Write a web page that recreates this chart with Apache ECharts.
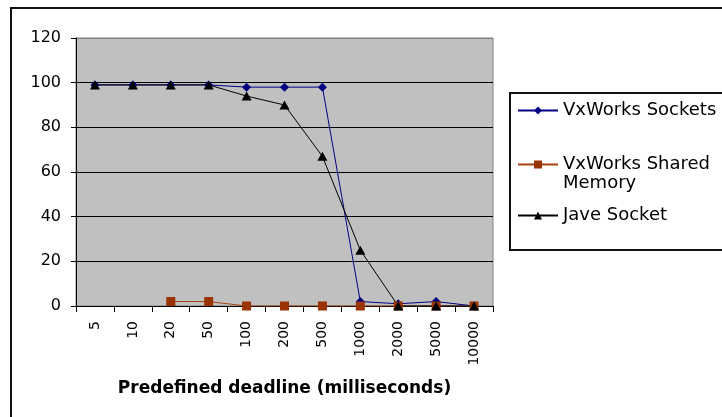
<!DOCTYPE html>
<html>
<head>
<meta charset="utf-8">
<script src="https://cdn.jsdelivr.net/npm/echarts@6/dist/echarts.min.js"></script>
<style>
  html, body { margin: 0; padding: 0; background: #fff; }
  #chart { width: 722px; height: 417px; }
</style>
</head>
<body>
<div id="chart"></div>
<script>
// deadline categories (ms)
var categories = ['5', '10', '20', '50', '100', '200', '500', '1000', '2000', '5000', '10000'];
// y axis
var yMin = 0, yMax = 120, yStep = 20;
// series values (percent)
var vxSockets = [99, 99, 99, 99, 98, 98, 98, 2, 1, 2, 0];
var vxSharedMem = [null, null, 2, 2, 0, 0, 0, 0, 0, 0, 0];
var javeSocket = [99, 99, 99, 99, 94, 90, 67, 25, 0, 0, 0];

var FONT = 'DejaVu Sans';

var chart = echarts.init(document.getElementById('chart'));

// one legend per item, Excel spreads them out unevenly
function legendItem(name, top) {
  return {
    data: [name],
    left: 517,
    top: top,
    orient: 'vertical',
    padding: 0,
    itemWidth: 40,
    itemHeight: 10,
    itemGap: 5,
    selectedMode: false,
    textStyle: { fontFamily: FONT, fontSize: 18, color: '#000', lineHeight: 19 },
    formatter: function (n) {
      // empty first line keeps the icon on the first text line
      return n === 'VxWorks Shared Memory' ? ' \nVxWorks Shared\nMemory' : n;
    }
  };
}

chart.setOption({
  animation: false,
  backgroundColor: '#fff',
  graphic: [
    { // outer chart frame
      type: 'rect',
      shape: { x: 11, y: 8, width: 800, height: 500 },
      style: { fill: 'none', stroke: '#111', lineWidth: 2 },
      silent: true
    },
    { // legend frame
      type: 'rect',
      shape: { x: 510, y: 93, width: 300, height: 157 },
      style: { fill: 'none', stroke: '#111', lineWidth: 2 },
      silent: true
    }
  ],
  legend: [
    legendItem('VxWorks Sockets', 101),
    legendItem('VxWorks Shared Memory', 136),
    legendItem('Jave Socket', 206)
  ],
  grid: {
    left: 76,
    top: 38,
    width: 417,
    height: 268,
    show: true,
    backgroundColor: '#c0c0c0',
    borderColor: '#808080',
    borderWidth: 1
  },
  xAxis: {
    type: 'category',
    data: categories,
    boundaryGap: true,
    name: 'Predefined deadline (milliseconds)',
    nameLocation: 'middle',
    nameGap: 74,
    nameTextStyle: { fontFamily: FONT, fontSize: 17, fontWeight: 'bold', color: '#000' },
    axisLine: { lineStyle: { color: '#000', width: 1 } },
    axisTick: { show: true, alignWithLabel: false, length: 6, lineStyle: { color: '#000' } },
    axisLabel: { rotate: 90, margin: 15, fontFamily: FONT, fontSize: 14, color: '#000', interval: 0 },
    splitLine: { show: false }
  },
  yAxis: {
    type: 'value',
    min: yMin,
    max: yMax,
    interval: yStep,
    axisLine: { show: true, lineStyle: { color: '#000', width: 1 } },
    axisTick: { show: true, length: 5, lineStyle: { color: '#000' } },
    axisLabel: { margin: 15, fontFamily: FONT, fontSize: 16, color: '#000' },
    splitLine: {
      show: true,
      // top line is the grey plot border, the rest black
      lineStyle: { color: ['#000', '#000', '#000', '#000', '#000', '#000', '#808080'], width: 1 }
    }
  },
  series: [
    {
      name: 'VxWorks Sockets',
      type: 'line',
      data: vxSockets,
      symbol: 'diamond',
      symbolSize: 9,
      showAllSymbol: true,
      lineStyle: { color: '#000080', width: 1 },
      itemStyle: { color: '#000080' }
    },
    {
      name: 'VxWorks Shared Memory',
      type: 'line',
      data: vxSharedMem,
      symbol: 'rect',
      symbolSize: 9,
      showAllSymbol: true,
      lineStyle: { color: '#a84010', width: 1 },
      itemStyle: { color: '#993300' }
    },
    {
      name: 'Jave Socket',
      type: 'line',
      data: javeSocket,
      symbol: 'triangle',
      symbolSize: [10, 9],
      showAllSymbol: true,
      lineStyle: { color: '#000', width: 1 },
      itemStyle: { color: '#000' }
    }
  ]
});
</script>
</body>
</html>
